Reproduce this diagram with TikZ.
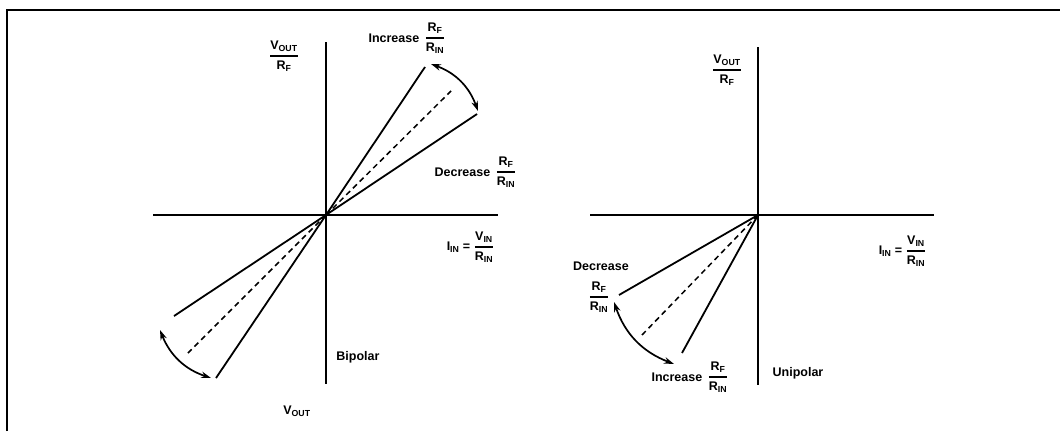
\documentclass[tikz,border=0pt]{standalone}
\usepackage{amsmath}
\usepackage{fontspec}
\setmainfont{Liberation Sans}
\usetikzlibrary{arrows.meta}
\newcommand\myfr[2]{$\displaystyle\genfrac{}{}{1.3pt}{0}{\hbox{#1}}{\hbox{#2}}$}
\newcommand\lowsub[1]{\textsubscript{#1}}
\begin{document}
\begin{tikzpicture}[x=1pt,y=-1pt,
  font=\fontsize{12.5}{14}\selectfont\bfseries,
  axis/.style={line width=2.4pt},
  ray/.style={line width=1.8pt},
  mid/.style={line width=1.5pt, dash pattern=on 5.5pt off 4pt},
  adj/.style={line width=1.7pt, {Stealth[length=10pt,width=6.5pt]}-{Stealth[length=10pt,width=6.5pt]}},
  lab/.style={inner sep=0pt}]
\useasboundingbox (0,0) rectangle (1060,431);
\draw[line width=2.4pt] (7,431) -- (7,10) -- (1060,10);

% ---------- Bipolar ----------
\coordinate (O1) at (326,215);
\coordinate (v1t) at (326,42);
\coordinate (v1b) at (326,384);
\coordinate (h1l) at (153,215);
\coordinate (h1r) at (498,215);
\draw[axis] (v1t) -- (v1b);
\draw[axis] (h1l) -- (h1r);
\coordinate (us) at (425,67);
\coordinate (ush) at (477,114);
\coordinate (ud) at (451,91);
\coordinate (ls) at (174,316);
\coordinate (lst) at (216,378);
\coordinate (ld) at (188,353);
\draw[ray] (O1) -- (us);
\draw[ray] (O1) -- (ush);
\draw[mid] (O1) -- (ud);
\draw[ray] (O1) -- (ls);
\draw[ray] (O1) -- (lst);
\draw[mid] (O1) -- (ld);
\coordinate (ua1) at (431,64);
\coordinate (ua2) at (478,111);
\draw[adj] (ua1) to[bend left=25] (ua2);
\coordinate (la1) at (160,330);
\coordinate (la2) at (211,378);
\draw[adj] (la1) to[bend right=25] (la2);

\node[lab] (y1) at (284,56) {\myfr{V\lowsub{OUT}}{R\lowsub{F}}};
\node[lab] (inc1f) at (435,38) {\myfr{R\lowsub{F}}{R\lowsub{IN}}};
\node[lab, anchor=east] (inc1) at ([xshift=-5pt]inc1f.west) {Increase};
\node[lab] (dec1f) at (506,172) {\myfr{R\lowsub{F}}{R\lowsub{IN}}};
\node[lab, anchor=east] (dec1) at ([xshift=-5pt]dec1f.west) {Decrease};
\node[lab] (x1f) at (484,247) {\myfr{V\lowsub{IN}}{R\lowsub{IN}}};
\node[lab, anchor=east] (x1) at ([xshift=-3pt]x1f.west) {I\lowsub{IN} =};
\node[lab] (bip) at (358,357) {Bipolar};
\node[lab] (vout) at (297,411) {V\lowsub{OUT}};

% ---------- Unipolar ----------
\coordinate (O2) at (758,215);
\coordinate (v2t) at (758,47);
\coordinate (v2b) at (758,385);
\coordinate (h2l) at (590,215);
\coordinate (h2r) at (934,215);
\draw[axis] (v2t) -- (v2b);
\draw[axis] (h2l) -- (h2r);
\coordinate (rs) at (619,295);
\coordinate (rst) at (682,353);
\coordinate (rd) at (642,335);
\draw[ray] (O2) -- (rs);
\draw[ray] (O2) -- (rst);
\draw[mid] (O2) -- (rd);
\coordinate (ra1) at (614,302);
\coordinate (ra2) at (674,364);
\draw[adj] (ra1) to[bend right=25] (ra2);

\node[lab] (y2) at (727,70) {\myfr{V\lowsub{OUT}}{R\lowsub{F}}};
\node[lab] (dec2) at (601,266) {Decrease};
\node[lab] (dec2f) at (599,297) {\myfr{R\lowsub{F}}{R\lowsub{IN}}};
\node[lab] (inc2f) at (718,377) {\myfr{R\lowsub{F}}{R\lowsub{IN}}};
\node[lab, anchor=east] (inc2) at ([xshift=-5pt]inc2f.west) {Increase};
\node[lab] (x2f) at (916,251) {\myfr{V\lowsub{IN}}{R\lowsub{IN}}};
\node[lab, anchor=east] (x2) at ([xshift=-3pt]x2f.west) {I\lowsub{IN} =};
\node[lab] (uni) at (798,373) {Unipolar};
\end{tikzpicture}
\end{document}
